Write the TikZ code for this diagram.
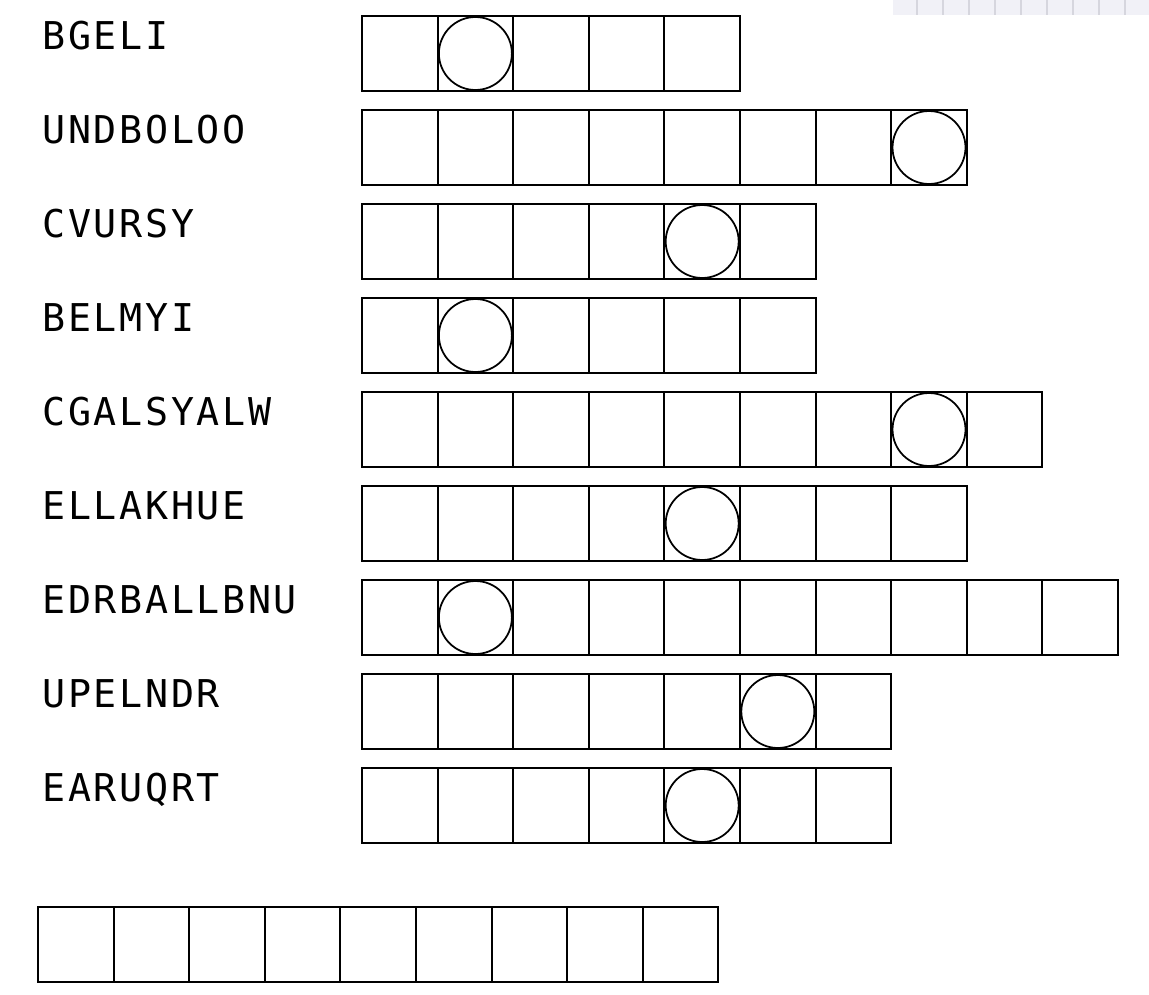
\documentclass[tikz,border=0pt]{standalone}
\usepackage{fontspec}
\usepackage{tikz}
\newfontfamily\wordfont[LetterSpace=7]{DejaVu Sans Mono}
\definecolor{stripfill}{RGB}{241,241,247}
\definecolor{stripline}{RGB}{214,214,222}

\begin{document}
\begin{tikzpicture}[x=0.02cm, y=-0.02cm,
    cell/.style={draw, line width=1.1pt, minimum size=1.512cm, inner sep=0, outer sep=0},
    ring/.style={draw, circle, line width=1pt, minimum size=1.46cm, inner sep=0},
    word/.style={anchor=base west, inner sep=0, font=\wordfont\fontsize{21.8}{26}\selectfont}]
  \useasboundingbox (0,0) rectangle (1149,994);
  % faint strip in the corner
  \fill[stripfill] (893,0) rectangle (1149,15);
  \foreach \x in {917,943,...,1149}
     \draw[stripline, line width=1.5pt] (\x,0) -- (\x,15);
  % words and their boxes
  \foreach \name/\len/\pos [count=\i] in {BGELI/5/2, UNDBOLOO/8/8, CVURSY/6/5, BELMYI/6/2,
      CGALSYALW/9/8, ELLAKHUE/8/5, EDRBALLBNU/10/2, UPELNDR/7/6, EARUQRT/7/5} {
    \node[word] (w\i) at (42, {16+94*(\i-1)+33}) {\name};
    \foreach \c in {1,...,\len}
       \node[cell] (r\i-\c) at ({362+75.6*\c-37.8}, {16+94*(\i-1)+37.5}) {};
    \node[ring] (o\i) at (r\i-\pos) {};
  }
  % answer row
  \foreach \c in {1,...,9}
     \node[cell] (a\c) at ({38+75.6*\c-37.8}, 944.5) {};
\end{tikzpicture}
\end{document}
